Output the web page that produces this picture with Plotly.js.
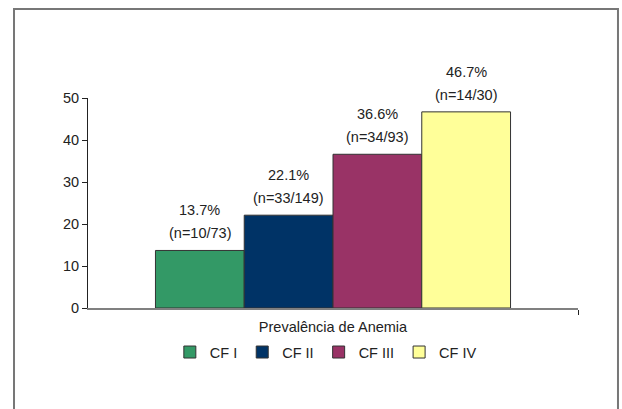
<!DOCTYPE html>
<html>
<head>
<meta charset="utf-8">
<script src="https://cdn.plot.ly/plotly-3.0.1.min.js"></script>
<style>html,body{margin:0;padding:0;background:#fff;}#chart{width:622px;height:409px;}</style>
</head>
<body>
<div id="chart"></div>
<script>
// Data
var categories = ["CF I", "CF II", "CF III", "CF IV"];
var prevalence = [13.7, 22.1, 36.6, 46.7];
var anemiaCases = [10, 33, 34, 14];
var groupTotals = [73, 149, 93, 30];
var barPositions = [1, 2, 3, 4];
var colors = ["#339966", "#003366", "#993366", "#FFFF99"];
var yTicks = [0, 10, 20, 30, 40, 50];
var xTitle = "Prevalência de Anemia";

var FONT = "Liberation Sans, Arial, sans-serif";
var FS = 14.5;
var xRange = [-0.26, 5.26];

var traces = categories.map(function (c, i) {
  return {
    type: "bar",
    name: c,
    x: [barPositions[i]],
    y: [prevalence[i]],
    width: 1,
    marker: { color: colors[i], line: { color: "#333", width: 1 } },
    hoverinfo: "skip"
  };
});

var annotations = [];
categories.forEach(function (c, i) {
  annotations.push({
    x: barPositions[i], y: prevalence[i], xref: "x", yref: "y",
    text: "(n=" + anemiaCases[i] + "/" + groupTotals[i] + ")",
    showarrow: false, yanchor: "bottom", yshift: 7,
    font: { family: FONT, size: FS, color: "#222" }
  });
  annotations.push({
    x: barPositions[i], y: prevalence[i], xref: "x", yref: "y",
    text: prevalence[i].toFixed(1) + "%",
    showarrow: false, yanchor: "bottom", yshift: 30,
    font: { family: FONT, size: FS, color: "#222" }
  });
});

var layout = {
  width: 622, height: 409,
  margin: { l: 88, r: 44, t: 98, b: 101 },
  paper_bgcolor: "#fff", plot_bgcolor: "#fff",
  font: { family: FONT, size: FS, color: "#222" },
  showlegend: true,
  barmode: "overlay",
  xaxis: {
    range: xRange,
    tickvals: [xRange[1]],
    showticklabels: false,
    ticks: "outside", ticklen: 5, tickcolor: "#222",
    showgrid: false, zeroline: false,
    showline: true, linecolor: "#808080", linewidth: 1.5,
    title: { text: xTitle, font: { family: FONT, size: FS, color: "#222" }, standoff: 8 },
    fixedrange: true
  },
  yaxis: {
    range: [0, 50],
    tickvals: yTicks,
    ticks: "outside", ticklen: 5, tickcolor: "#222",
    tickfont: { family: FONT, size: FS, color: "#222" },
    showgrid: false, zeroline: false,
    showline: true, linecolor: "#222", linewidth: 1,
    fixedrange: true
  },
  legend: {
    orientation: "h",
    x: 0.167, xanchor: "left",
    y: -0.21, yanchor: "middle",
    font: { family: FONT, size: FS, color: "#222" },
    traceorder: "normal",
    itemclick: false, itemdoubleclick: false
  },
  annotations: annotations,
  shapes: [{
    type: "rect", xref: "paper", yref: "paper",
    x0: -0.151, x1: 1.0816, y0: -0.6, y1: 1.4238,
    line: { color: "#777", width: 2 }, fillcolor: "rgba(0,0,0,0)", layer: "below"
  }]
};

Plotly.newPlot("chart", traces, layout, { displayModeBar: false, staticPlot: true });
</script>
</body>
</html>
